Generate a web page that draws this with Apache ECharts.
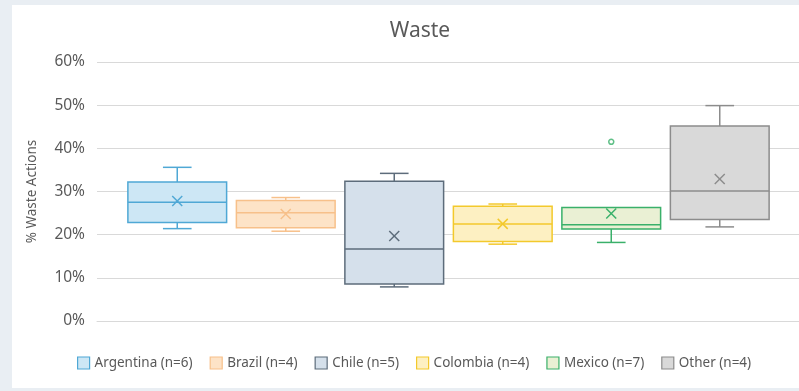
<!DOCTYPE html>
<html>
<head>
<meta charset="utf-8">
<script src="https://cdn.jsdelivr.net/npm/echarts@6/dist/echarts.min.js"></script>
<style>
html,body{margin:0;padding:0;background:#e9eef3;}
#c{width:799px;height:391px;}
</style>
</head>
<body>
<div id="c"></div>
<script>
// ---- data ----
var categories = ['Argentina (n=6)', 'Brazil (n=4)', 'Chile (n=5)', 'Colombia (n=4)', 'Mexico (n=7)', 'Other (n=4)'];
var whiskerLow  = [21.4, 20.8, 7.9, 17.8, 18.2, 21.8];
var q1          = [22.8, 21.6, 8.6, 18.4, 21.3, 23.5];
var median      = [27.5, 25.1, 16.7, 22.5, 22.3, 30.1];
var q3          = [32.2, 27.9, 32.4, 26.6, 26.3, 45.2];
var whiskerHigh = [35.6, 28.6, 34.2, 27.1, 26.3, 49.9];
var means       = [27.8, 24.8, 19.7, 22.5, 24.9, 32.9];
var outlierCat  = [4];
var outlierVal  = [41.5];
var yTicks      = [0, 10, 20, 30, 40, 50, 60];

// ---- styles ----
var strokeColors = ['#4fa8d5', '#f7c08a', '#5d6c7b', '#f3c92c', '#3ab06a', '#8c8c8c'];
var fillColors   = ['#cde7f5', '#fde3c7', '#d5e0eb', '#fdf0c2', '#eaf0d4', '#d9d9d9'];
var FONT = 'Noto Sans';
var TXT = '#595959';

var chart = echarts.init(document.getElementById('c'));

function renderBox(params, api) {
  var i = params.seriesIndex;
  var cat = api.value(0);
  var lo = api.coord([cat, api.value(1)]);
  var b1 = api.coord([cat, api.value(2)]);
  var md = api.coord([cat, api.value(3)]);
  var b3 = api.coord([cat, api.value(4)]);
  var hi = api.coord([cat, api.value(5)]);
  var mn = api.coord([cat, api.value(6)]);
  var band = api.size([1, 0])[0];
  var bw = band * 0.91;
  var cw = bw * 0.29;
  var cx = lo[0];
  var sc = strokeColors[i];
  var lw = 1.5;
  var children = [];
  children.push({type:'rect', shape:{x: cx - bw/2, y: b3[1], width: bw, height: b1[1]-b3[1]},
    style:{fill: fillColors[i], stroke: sc, lineWidth: lw}});
  children.push({type:'line', shape:{x1: cx - bw/2, y1: md[1], x2: cx + bw/2, y2: md[1]}, style:{stroke: sc, lineWidth: lw}});
  if (hi[1] < b3[1] - 0.5) {
    children.push({type:'line', shape:{x1: cx, y1: hi[1], x2: cx, y2: b3[1]}, style:{stroke: sc, lineWidth: lw}});
    children.push({type:'line', shape:{x1: cx - cw/2, y1: hi[1], x2: cx + cw/2, y2: hi[1]}, style:{stroke: sc, lineWidth: lw}});
  }
  if (lo[1] > b1[1] + 0.5) {
    children.push({type:'line', shape:{x1: cx, y1: b1[1], x2: cx, y2: lo[1]}, style:{stroke: sc, lineWidth: lw}});
    children.push({type:'line', shape:{x1: cx - cw/2, y1: lo[1], x2: cx + cw/2, y2: lo[1]}, style:{stroke: sc, lineWidth: lw}});
  }
  var s = 5;
  children.push({type:'line', shape:{x1: cx - s, y1: mn[1] - s, x2: cx + s, y2: mn[1] + s}, style:{stroke: sc, lineWidth: lw}});
  children.push({type:'line', shape:{x1: cx - s, y1: mn[1] + s, x2: cx + s, y2: mn[1] - s}, style:{stroke: sc, lineWidth: lw}});
  return {type:'group', children: children};
}

var series = categories.map(function (name, i) {
  return {
    name: name,
    type: 'custom',
    xAxisIndex: 1, yAxisIndex: 1,
    itemStyle: {color: fillColors[i], borderColor: strokeColors[i]},
    renderItem: renderBox,
    data: [[i, whiskerLow[i], q1[i], median[i], q3[i], whiskerHigh[i], means[i]]],
    encode: {x: 0, y: [1, 2, 3, 4, 5, 6]},
    silent: true
  };
});
series.push({
  name: 'outliers',
  type: 'scatter',
  xAxisIndex: 1, yAxisIndex: 1,
  symbol: 'circle', symbolSize: 5,
  itemStyle: {color: '#ffffff', borderColor: strokeColors[4], borderWidth: 1.5},
  data: outlierCat.map(function (c, k) { return [c, outlierVal[k]]; }),
  silent: true
});

var option = {
  animation: false,
  backgroundColor: 'transparent',
  graphic: [{type:'rect', shape:{x:12, y:5, width:800, height:383}, style:{fill:'#ffffff'}, z:-10, silent:true}],
  title: {
    text: 'Waste', left: 415, top: 16, textAlign: 'center',
    textStyle: {fontFamily: FONT, fontSize: 21, fontWeight: 'normal', color: TXT}
  },
  legend: {
    top: 356, left: 77, padding: 0,
    icon: 'rect', itemWidth: 12, itemHeight: 12, itemGap: 17,
    textStyle: {fontFamily: FONT, fontSize: 13.5, color: TXT},
    data: categories.map(function (n, i) {
      return {name: n, itemStyle: {color: fillColors[i], borderColor: strokeColors[i], borderWidth: 1.2}};
    })
  },
  grid: [
    {left: 97, right: 0, top: 62, bottom: 70},
    {left: 123, right: 25, top: 62, bottom: 70}
  ],
  xAxis: [
    {gridIndex: 0, type: 'category', data: [''], show: true,
     axisLine: {lineStyle: {color: '#d9d9d9'}}, axisTick: {show: false}, axisLabel: {show: false}},
    {gridIndex: 1, type: 'category', data: categories, show: false}
  ],
  yAxis: [
    {gridIndex: 0, type: 'value', min: yTicks[0], max: yTicks[yTicks.length-1], interval: 10,
     name: '% Waste Actions', nameLocation: 'middle', nameGap: 58, nameRotate: 90,
     nameTextStyle: {fontFamily: FONT, fontSize: 13.5, color: TXT},
     axisLine: {show: false}, axisTick: {show: false},
     axisLabel: {formatter: '{value}%', fontFamily: FONT, fontSize: 15.5, color: TXT, margin: 12},
     splitLine: {lineStyle: {color: '#d9d9d9', width: 1}}},
    {gridIndex: 1, type: 'value', min: yTicks[0], max: yTicks[yTicks.length-1], interval: 10, show: false, splitLine: {show: false}}
  ],
  series: series
};
chart.setOption(option);
</script>
</body>
</html>
